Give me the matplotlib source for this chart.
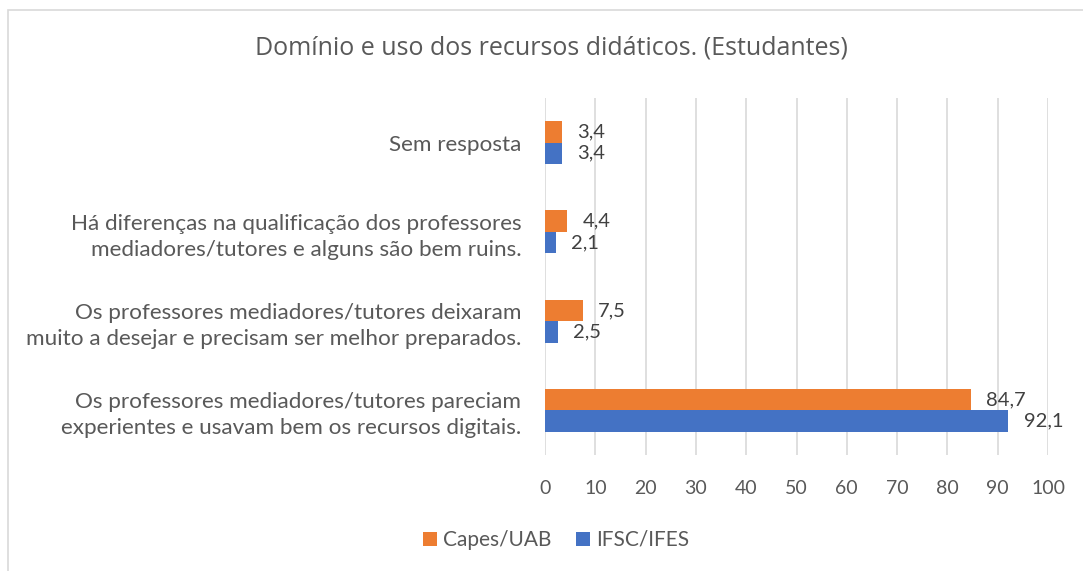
import numpy as np
import matplotlib
matplotlib.use("Agg")
import matplotlib.pyplot as plt
from matplotlib.patches import Rectangle

plt.rcParams['font.family'] = ['Lato', 'DejaVu Sans']

# Dados (de cima para baixo)
categorias = [
    "Sem resposta",
    "Há diferenças na qualificação dos professores\nmediadores/tutores e alguns são bem ruins.",
    "Os professores mediadores/tutores deixaram\nmuito a desejar e precisam ser melhor preparados.",
    "Os professores mediadores/tutores pareciam\nexperientes e usavam bem os recursos digitais.",
]
capes_uab = [3.4, 4.4, 7.5, 84.7]
ifsc_ifes = [3.4, 2.1, 2.5, 92.1]
ticks_x = [0, 10, 20, 30, 40, 50, 60, 70, 80, 90, 100]

cor_capes = '#ED7D31'
cor_ifsc = '#4472C4'
cinza = '#595959'

fig = plt.figure(figsize=(10.83, 5.71), dpi=100)
ax = fig.add_axes([545/1083, 1-455/571, (1048-545)/1083, (455-98)/571])

# borda do grafico
fig.patches.append(Rectangle((8/1083, -0.1), 1.2, 1.1 - 10/571, transform=fig.transFigure,
                             fill=False, edgecolor='#d9d9d9', linewidth=1.2))

n = len(categorias)
y = np.arange(n)[::-1]
h = 0.24

b1 = ax.barh(y + h/2, capes_uab, height=h, color=cor_capes, label='Capes/UAB', zorder=3)
b2 = ax.barh(y - h/2, ifsc_ifes, height=h, color=cor_ifsc, label='IFSC/IFES', zorder=3)

for barras, vals in [(b1, capes_uab), (b2, ifsc_ifes)]:
    for b, v in zip(barras, vals):
        ax.annotate(f"{v:.1f}".replace('.', ','), (v, b.get_y() + b.get_height()/2),
                    xytext=(11, 0), textcoords='offset points', va='center', ha='left',
                    fontsize=14.5, color='#404040')

ax.set_xlim(0, 100)
ax.set_ylim(-0.5, n - 0.5)
ax.set_xticks(ticks_x)
ax.set_yticks(y)
ax.set_yticklabels(categorias, linespacing=1.36)
ax.tick_params(axis='x', length=0, labelsize=14, colors=cinza, pad=18)
ax.tick_params(axis='y', length=0, labelsize=16.2, colors=cinza, pad=17)
for lbl in ax.get_yticklabels():
    lbl.set_horizontalalignment('right')
ax.grid(axis='x', color='#d9d9d9', linewidth=1.2, zorder=0)
for s in ax.spines.values():
    s.set_visible(False)

fig.text(551/1083, 1-48/571, "Domínio e uso dos recursos didáticos. (Estudantes)",
         ha='center', va='center', fontsize=18, color=cinza, family='Open Sans')

fig.legend(loc='center', bbox_to_anchor=(556/1083, 1-540/571), ncol=2, frameon=False,
           fontsize=15, labelcolor=cinza, handlelength=0.67, handleheight=0.67,
           handletextpad=0.3, columnspacing=1.2)

fig.savefig('out.png', dpi=100)
